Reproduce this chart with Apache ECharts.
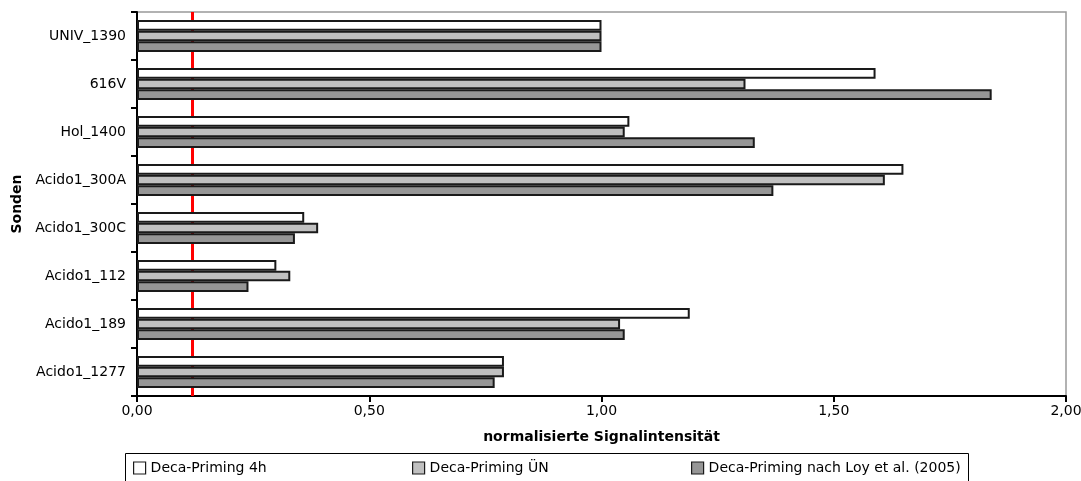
<!DOCTYPE html>
<html>
<head>
<meta charset="utf-8">
<script src="https://cdn.jsdelivr.net/npm/echarts@6/dist/echarts.min.js"></script>
<style>
  html, body { margin: 0; padding: 0; background: #fff; }
  #chart { width: 1081px; height: 481px; }
</style>
</head>
<body>
<div id="chart"></div>
<script>
// Probe names, listed top to bottom
const categories = ['UNIV_1390', '616V', 'Hol_1400', 'Acido1_300A', 'Acido1_300C', 'Acido1_112', 'Acido1_189', 'Acido1_1277'];

// Normalised signal intensity per priming protocol
const deca4h   = [1.00, 1.59, 1.06, 1.65, 0.36, 0.30, 1.19, 0.79];
const decaUN   = [1.00, 1.31, 1.05, 1.61, 0.39, 0.33, 1.04, 0.79];
const decaLoy  = [1.00, 1.84, 1.33, 1.37, 0.34, 0.24, 1.05, 0.77];

const seriesNames = ['Deca-Priming 4h', 'Deca-Priming ÜN', 'Deca-Priming nach Loy et al. (2005)'];
const seriesColors = ['#ffffff', '#c0c0c0', '#969696'];

// Detection threshold
const threshold = 0.12;

const xTicks = { min: 0, max: 2, interval: 0.5 };

const font = 'DejaVu Sans';

// One legend entry per column of the legend strip
const legendLefts = [133, 412, 691];

function barSeries(name, data, color, withLine) {
  const s = {
    name: name,
    type: 'bar',
    data: data,
    z: 3,
    barGap: '0%',
    barCategoryGap: '33.3%',
    itemStyle: { color: color, borderColor: '#1a1a1a', borderWidth: 2 },
    emphasis: { disabled: true },
    animation: false
  };
  if (withLine) {
    s.markLine = {
      silent: true,
      symbol: 'none',
      z: 1,
      label: { show: false },
      lineStyle: { color: '#ff0000', width: 3, type: 'solid', opacity: 1 },
      data: [{ xAxis: threshold }]
    };
  }
  return s;
}

const legends = seriesNames.map((name, i) => ({
  left: legendLefts[i], top: 461,
  orient: 'horizontal',
  itemWidth: 12, itemHeight: 12,
  padding: 0,
  icon: 'rect',
  selectedMode: false,
  itemStyle: { borderWidth: 1.2 },
  textStyle: { fontFamily: font, fontSize: 14, color: '#000', padding: [0, 0, 0, 0] },
  data: [name]
}));

const chart = echarts.init(document.getElementById('chart'), null, { renderer: 'canvas' });
chart.setOption({
  animation: false,
  backgroundColor: '#ffffff',
  textStyle: { fontFamily: font },
  grid: {
    left: 137, right: 15, top: 12, bottom: 85,
    containLabel: false,
    outerBoundsMode: 'none',
    show: true, borderColor: '#999999', borderWidth: 1.5, backgroundColor: 'transparent'
  },
  // frame around the legend strip
  graphic: [{
    type: 'rect',
    x: 125.5, y: 453.5,
    shape: { x: 0, y: 0, width: 843, height: 40 },
    style: { fill: 'none', stroke: '#000', lineWidth: 1 },
    silent: true
  }],
  legend: legends,
  xAxis: {
    type: 'value',
    min: xTicks.min, max: xTicks.max, interval: xTicks.interval,
    name: 'normalisierte Signalintensität',
    nameLocation: 'middle', nameGap: 34,
    nameTextStyle: { fontFamily: font, fontSize: 14, fontWeight: 'bold', color: '#000' },
    axisLine: { show: true, lineStyle: { color: '#000', width: 2 } },
    axisTick: { show: true, length: 6, lineStyle: { color: '#000', width: 2 } },
    axisLabel: {
      fontFamily: font, fontSize: 14, color: '#000', margin: 8,
      formatter: v => v.toFixed(2).replace('.', ',')
    },
    splitLine: { show: false }
  },
  yAxis: {
    type: 'category',
    inverse: true,
    data: categories,
    name: 'Sonden',
    nameLocation: 'middle', nameGap: 113, nameRotate: 90,
    nameTextStyle: { fontFamily: font, fontSize: 14, fontWeight: 'bold', color: '#000' },
    axisLine: { show: true, lineStyle: { color: '#000', width: 2 } },
    axisTick: { show: true, length: 6, alignWithLabel: false, lineStyle: { color: '#000', width: 2 } },
    axisLabel: { fontFamily: font, fontSize: 14, color: '#000', margin: 11 },
    splitLine: { show: false }
  },
  series: [
    barSeries(seriesNames[0], deca4h, seriesColors[0], true),
    barSeries(seriesNames[1], decaUN, seriesColors[1], false),
    barSeries(seriesNames[2], decaLoy, seriesColors[2], false)
  ]
});
</script>
</body>
</html>
